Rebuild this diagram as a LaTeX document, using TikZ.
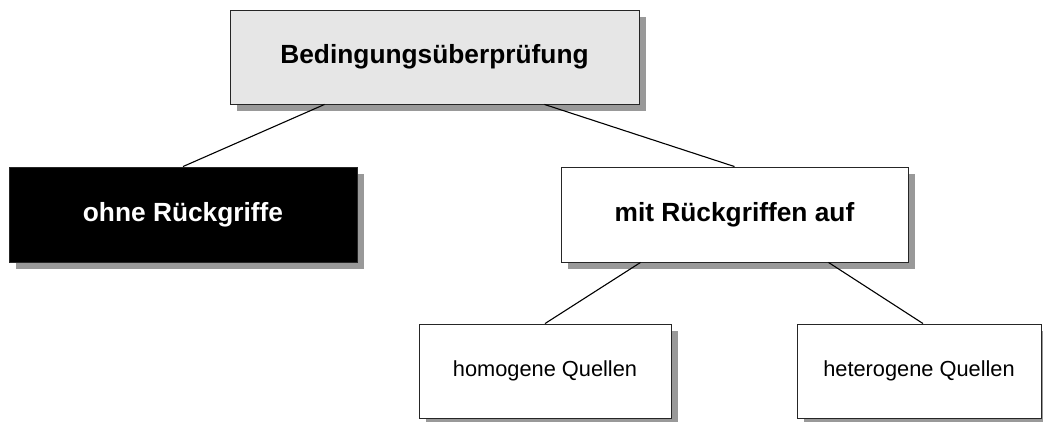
\documentclass[tikz,border=0pt]{standalone}
\usepackage{fontspec}
\setmainfont{Liberation Sans}
\usetikzlibrary{shadows}
\definecolor{boxgray}{HTML}{E6E6E6}
\definecolor{shadowgray}{HTML}{999999}
\tikzset{
  card/.style={draw=black!85, line width=0.9pt, rectangle, inner sep=0pt,
    drop shadow={shadow xshift=6.5pt, shadow yshift=-6.5pt, fill=shadowgray, opacity=1}},
  bigtext/.style={font=\fontsize{26.3}{30}\selectfont\bfseries},
  smalltext/.style={font=\fontsize{21.8}{26}\selectfont},
  link/.style={draw=black, line width=1.1pt}
}
\begin{document}
\begin{tikzpicture}[x=1pt,y=-1pt]
\useasboundingbox (0,0) rectangle (1043,421);
% hierarchy boxes
\node[card, bigtext, fill=boxgray, minimum width=409pt, minimum height=93.5pt] (root) at (434.5,57.25) {Bedingungsüberprüfung};
\node[card, bigtext, fill=black, text=white, minimum width=348pt, minimum height=95pt] (ohne) at (183,214.5) {ohne Rückgriffe};
\node[card, bigtext, fill=white, minimum width=347pt, minimum height=95pt] (mit) at (734.5,214.5) {mit Rückgriffen auf};
\node[card, smalltext, fill=white, minimum width=252pt, minimum height=94pt] (homo) at (545,371) {homogene Quellen};
\node[card, smalltext, fill=white, minimum width=244pt, minimum height=94pt] (hetero) at (919,371) {heterogene Quellen};
% connectors
\draw[link] ([xshift=-110pt]root.south) -- (ohne.north);
\draw[link] ([xshift=110pt]root.south) -- (mit.north);
\draw[link] ([xshift=-94pt]mit.south) -- (homo.north);
\draw[link] ([xshift=94pt]mit.south) -- ([xshift=4pt]hetero.north);
\end{tikzpicture}
\end{document}
